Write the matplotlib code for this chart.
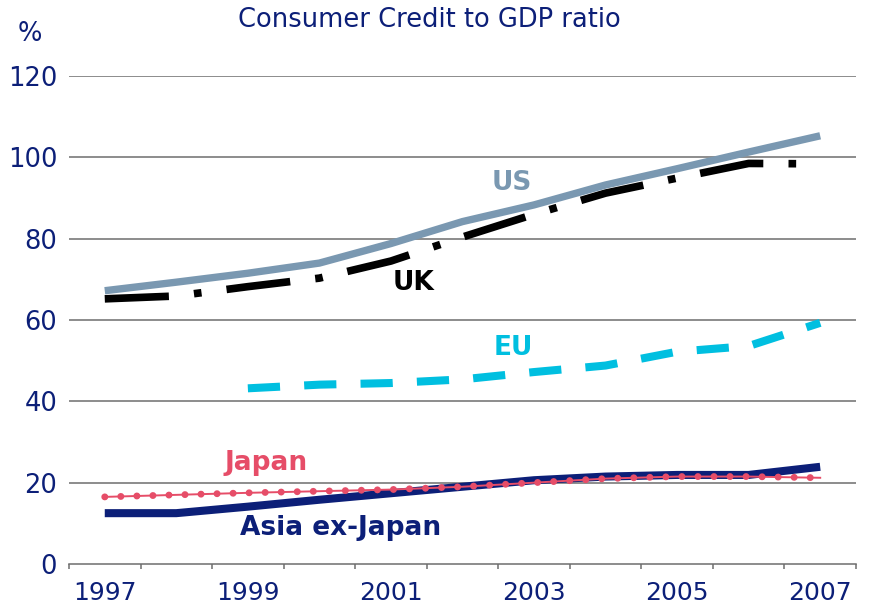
import numpy as np
import matplotlib
matplotlib.use("Agg")
from matplotlib import pyplot as plt

# annual consumer credit / GDP, percent
years = [1997, 1998, 1999, 2000, 2001, 2002, 2003, 2004, 2005, 2006, 2007]
us = [67.2, 69.3, 71.5, 74.0, 78.8, 84.2, 88.3, 93.2, 97.2, 101.3, 105.3]
uk = [65.2, 65.9, 68.2, 70.3, 74.5, 80.4, 86.0, 91.2, 94.9, 98.5, 98.4]
eu_years = [1999, 2000, 2001, 2002, 2003, 2004, 2005, 2006, 2007]
eu = [43.2, 44.1, 44.5, 45.4, 47.2, 48.8, 52.2, 53.6, 59.3]
japan = [16.5, 17.0, 17.5, 17.9, 18.3, 19.0, 20.0, 21.0, 21.5, 21.5, 21.2]
asia = [12.5, 12.5, 14.1, 15.8, 17.4, 19.0, 20.6, 21.5, 21.9, 21.9, 23.9]
yticks = [0, 20, 40, 60, 80, 100, 120]

NAVY = "#0c1f78"
US_C = "#7a98b1"
EU_C = "#00bfe0"
JP_C = "#e64d68"
GRID = "#6e6e6e"

fig = plt.figure(figsize=(8.69, 6.09), dpi=100)
ax = fig.add_axes([0.0794, 0.0739, 0.9056, 0.8013])

pos = {y: i for i, y in enumerate(years)}
x = [pos[y] for y in years]
xe = [pos[y] for y in eu_years]

ax.plot(x, asia, color=NAVY, lw=5.8, solid_capstyle="butt", zorder=3)
ax.plot(x, japan, color=JP_C, lw=1.4, zorder=4)
ax.plot(x, japan, color=JP_C, lw=5.0, linestyle=(0, (0.01, 2.3)),
        dash_capstyle="round", zorder=4)
ax.plot(xe, eu, color=EU_C, lw=5.8, linestyle=(0, (4.0, 3.0)),
        dash_capstyle="butt", zorder=3)
ax.plot(x, uk, color="black", lw=5.5, linestyle=(0, (8.4, 3.3, 1.0, 3.3)),
        dash_capstyle="butt", zorder=3)
ax.plot(x, us, color=US_C, lw=5.3, solid_capstyle="butt", zorder=4)

# series names written next to the lines
lab = dict(ha="center", va="baseline", fontweight="bold", fontsize=19)
ax.text(5.69, 92.0, "US", color=US_C, **lab)
ax.text(4.31, 67.4, "UK", color="black", **lab)
ax.text(5.71, 51.4, "EU", color=EU_C, **lab)
ax.text(2.25, 23.1, "Japan", color=JP_C, **lab)
ax.text(3.29, 7.1, "Asia ex-Japan", color=NAVY, **lab)

ax.set_xlim(-0.5, len(years) - 0.5)
ax.set_ylim(0, 120)
ax.set_yticks(yticks)
ax.set_yticklabels([str(v) for v in yticks], fontsize=18.5, color=NAVY)
for v in yticks[1:]:
    ax.axhline(v, color=GRID, lw=1.1, zorder=1)

# ticks between years, labels every other year
ax.set_xticks(np.arange(-0.5, len(years), 1.0))
ax.set_xticklabels([])
ax.set_xticks(x[::2], minor=True)
ax.set_xticklabels([str(y) for y in years[::2]], minor=True, fontsize=18,
                   color=NAVY)
ax.tick_params(axis="x", which="major", length=3.5, width=1.1, color=GRID,
               direction="out")
ax.tick_params(axis="x", which="minor", length=0, pad=12)
ax.tick_params(axis="y", length=0, pad=8.5)

for s in ["top", "right", "left"]:
    ax.spines[s].set_visible(False)
ax.spines["bottom"].set_color(GRID)
ax.spines["bottom"].set_linewidth(1.1)

fig.text(0.494, 1 - 27 / 609, "Consumer Credit to GDP ratio", ha="center",
         va="baseline", fontsize=18.5, color=NAVY)
fig.text(0.0345, 1 - 41 / 609, "%", ha="center", va="baseline",
         fontsize=18.5, color=NAVY)

fig.savefig("out.png", dpi=100)
